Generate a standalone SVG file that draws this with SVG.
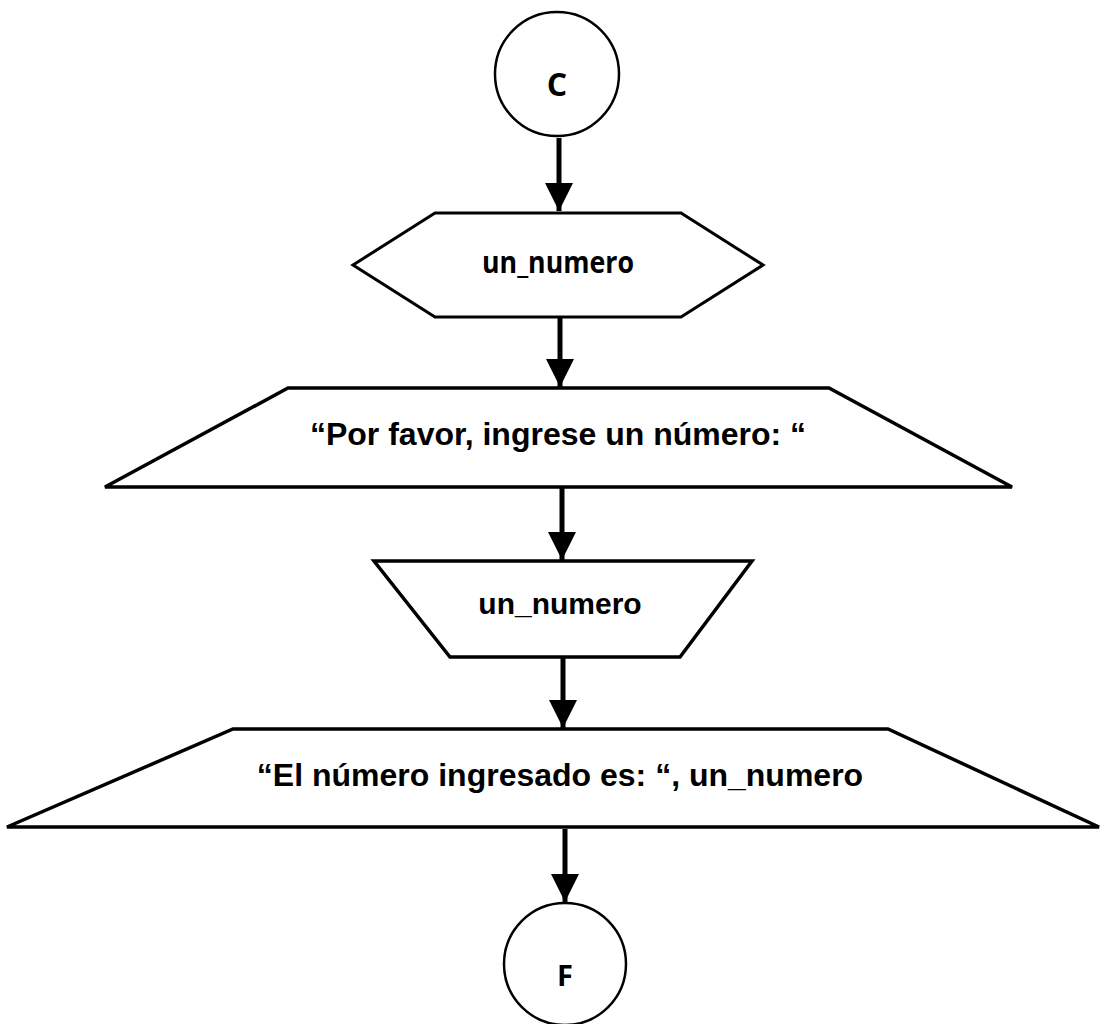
<svg xmlns="http://www.w3.org/2000/svg" width="1101" height="1024" viewBox="0 0 1101 1024">
<defs>
<style>
.shape{fill:#fff;stroke:#000;stroke-linejoin:miter}
.circ{stroke-width:2.5}
.hex{stroke-width:3}
.trap{stroke-width:3.5}
.conn{stroke:#000;stroke-width:5;fill:none}
.lbl{font-family:"Open Sans","DejaVu Sans",sans-serif;font-weight:bold;fill:#000;text-anchor:middle}
.txt{font-family:"Liberation Sans",Arial,sans-serif;font-weight:bold;fill:#000;text-anchor:middle;font-size:32px}
</style>
<marker id="arrow" markerUnits="userSpaceOnUse" markerWidth="28" markerHeight="28" viewBox="0 0 26 26" refX="26" refY="13" orient="auto">
<path d="M0,0 L26,13 L0,26 Z" fill="#000"/>
</marker>
</defs>
<rect width="1101" height="1024" fill="#fff"/>
<g id="connectors">
<line class="conn" x1="559" y1="138" x2="559" y2="211" marker-end="url(#arrow)"/>
<line class="conn" x1="560" y1="318" x2="560" y2="387" marker-end="url(#arrow)"/>
<line class="conn" x1="562" y1="488" x2="562" y2="560" marker-end="url(#arrow)"/>
<line class="conn" x1="563" y1="658" x2="563" y2="728" marker-end="url(#arrow)"/>
<line class="conn" x1="565" y1="829" x2="565" y2="902" marker-end="url(#arrow)"/>
</g>
<g id="node-start">
<circle class="shape circ" cx="557" cy="74" r="62"/>
<text class="lbl" x="557" y="96" font-size="32">C</text>
</g>
<g id="node-decl">
<polygon class="shape hex" points="435,213 681,213 763,265 681,317 435,317 353,265"/>
<text class="lbl" x="558" y="273" font-size="31" textLength="152" lengthAdjust="spacingAndGlyphs">un_numero</text>
</g>
<g id="node-prompt">
<polygon class="shape trap" points="288,388 829,388 1012,487 105,487"/>
<text class="txt" x="558" y="445">“Por favor, ingrese un número: “</text>
</g>
<g id="node-input">
<polygon class="shape trap" points="374,561 752,561 680,657 450,657"/>
<text class="txt" x="560" y="614" style="font-size:30px">un_numero</text>
</g>
<g id="node-output">
<polygon class="shape trap" points="233,729 888,729 1099,827 7,827"/>
<text class="txt" x="560" y="786">“El número ingresado es: “, un_numero</text>
</g>
<g id="node-end">
<circle class="shape circ" cx="565" cy="964" r="61"/>
<text class="lbl" x="565" y="986" font-size="29">F</text>
</g>
</svg>
